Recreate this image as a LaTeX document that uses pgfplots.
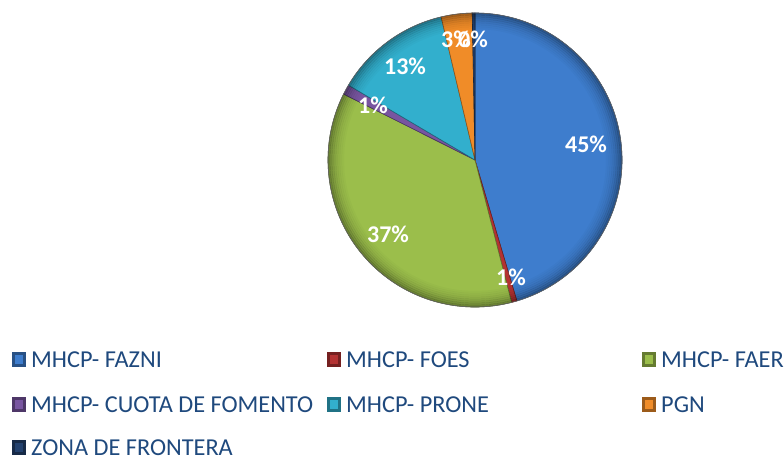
\documentclass[border=0pt]{standalone}
\usepackage{fontspec}
\setmainfont{Carlito}
\usepackage{pgfplots}
\pgfplotsset{compat=1.18}
\definecolor{cfazni}{RGB}{62,125,205}
\definecolor{cfoes}{RGB}{180,50,50}
\definecolor{cfaer}{RGB}{155,190,75}
\definecolor{ccuota}{RGB}{120,85,160}
\definecolor{cprone}{RGB}{50,175,205}
\definecolor{cpgn}{RGB}{240,140,40}
\definecolor{czona}{RGB}{35,65,110}
\definecolor{legtext}{HTML}{1F497D}

% shares in percent, clockwise from 12 o'clock
\def\pFAZNI{45.4}\def\pFOES{0.6}\def\pFAER{36.4}\def\pCUOTA{1.1}
\def\pPRONE{12.8}\def\pPGN{3.4}\def\pZONA{0.3}
\pgfmathsetmacro\aA{90}
\pgfmathsetmacro\aB{\aA-3.6*\pFAZNI}
\pgfmathsetmacro\aC{\aB-3.6*\pFOES}
\pgfmathsetmacro\aD{\aC-3.6*\pFAER}
\pgfmathsetmacro\aE{\aD-3.6*\pCUOTA}
\pgfmathsetmacro\aF{\aE-3.6*\pPRONE}
\pgfmathsetmacro\aG{\aF-3.6*\pPGN}
\pgfmathsetmacro\aH{\aG-3.6*\pZONA}

\newcommand\slice[3]{%
  \fill[#1, draw=#1!60!black, line width=0.6pt] (axis cs:475,160) -- ++(#2:147pt)
    arc[start angle=#2, end angle=#3, radius=147pt] -- cycle;}
\newcommand\rim[2]{%
  \draw[black, opacity=#2, line width=2.2pt] (axis cs:475,160) circle[radius=#1pt];}
\newcommand\pct[3]{%
  \node[anchor=base, inner sep=0pt, text=white,
        font=\bfseries\fontsize{24}{24}\selectfont] at (axis cs:#1,#2) {#3};}
\newcommand\legitem[4]{%
  \fill[#3!65!black] ([shift={(-19pt,0pt)}]axis cs:#1,#2) rectangle ([shift={(-5pt,15pt)}]axis cs:#1,#2);
  \fill[#3] ([shift={(-16pt,3pt)}]axis cs:#1,#2) rectangle ([shift={(-8pt,12pt)}]axis cs:#1,#2);
  \node[anchor=base west, inner sep=0pt, text=legtext,
        font=\fontsize{24.3}{25}\selectfont] at (axis cs:#1,#2) {#4};}

\begin{document}
\begin{tikzpicture}
\begin{axis}[x=1pt, y=1pt, xmin=0, xmax=784, ymin=0, ymax=458,
  y dir=reverse, hide axis, ticks=none, clip=false]
\coordinate (BL) at (axis cs:0,458);
\coordinate (TR) at (axis cs:784,0);
\slice{cfazni}{\aA}{\aB}
\slice{cfoes}{\aB}{\aC}
\slice{cfaer}{\aC}{\aD}
\slice{ccuota}{\aD}{\aE}
\slice{cprone}{\aE}{\aF}
\slice{cpgn}{\aF}{\aG}
\slice{czona}{\aG}{\aH}
% darker rim for the bevelled look
\rim{146}{0.30}
\rim{144}{0.24}
\rim{142}{0.18}
\rim{140}{0.13}
\rim{138}{0.09}
\rim{136}{0.06}
\rim{134}{0.04}
\rim{132}{0.02}
\draw[black!60, line width=0.6pt] (axis cs:475,160) circle[radius=147pt];

\pct{586}{152}{45\%}
\pct{511}{285}{1\%}
\pct{388}{242}{37\%}
\pct{373}{113}{1\%}
\pct{405}{74}{13\%}
\pct{456}{47}{3\%}
\pct{473}{47}{0\%}

\legitem{31}{367}{cfazni}{MHCP- FAZNI}
\legitem{346}{367}{cfoes}{MHCP- FOES}
\legitem{661}{367}{cfaer}{MHCP- FAER}
\legitem{31}{412}{ccuota}{MHCP- CUOTA DE FOMENTO}
\legitem{346}{412}{cprone}{MHCP- PRONE}
\legitem{661}{412}{cpgn}{PGN}
\legitem{31}{455}{czona}{ZONA DE FRONTERA}
\end{axis}
\pgfresetboundingbox
\path (BL) rectangle (TR);
\end{tikzpicture}
\end{document}
